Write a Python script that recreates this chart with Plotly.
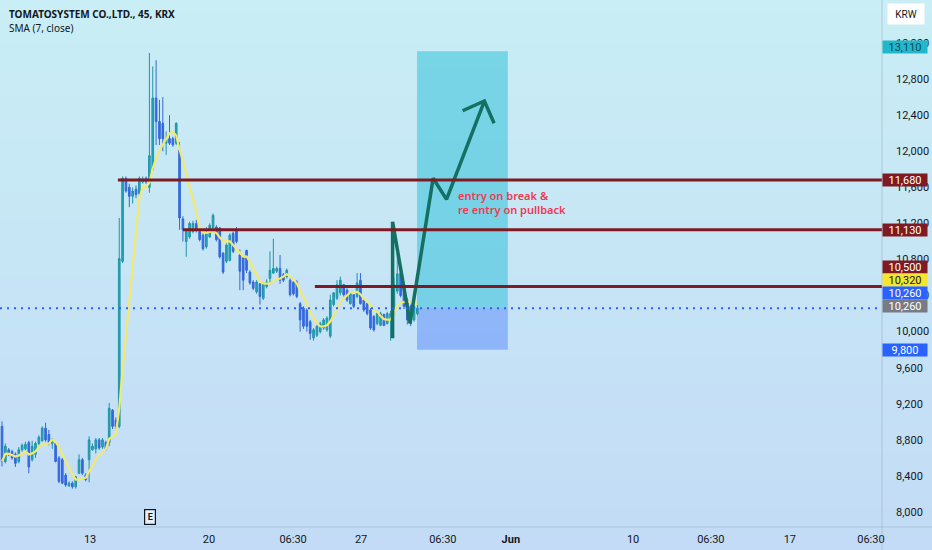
import pandas as pd
import plotly.graph_objects as go

# 45 min bars, bar index 0..124 (May 8 .. May 28)
opens = [8950, 8560, 8690, 8670, 8640, 8560, 8690, 8700, 8770, 8580,
         8640, 8760, 8790, 8930, 8860, 8760, 8760, 8600, 8580, 8410,
         8290, 8320, 8280, 8430, 8580, 8410, 8580, 8690, 8700, 8800,
         8720, 8770, 8770, 9130, 9020, 8950, 10780, 11700, 11600, 11500,
         11580, 11530, 11660, 11700, 11600, 11800, 12590, 12330, 12310, 12090,
         12140, 12140, 12090, 12010, 11250, 11000, 11050, 11110, 11200, 11110,
         11070, 10940, 11050, 11150, 11160, 11150, 10870, 10780, 10790, 11090,
         11130, 10850, 10830, 10900, 10660, 10550, 10440, 10530, 10370, 10500,
         10590, 10650, 10670, 10700, 10630, 10610, 10570, 10550, 10550, 10310,
         10260, 10240, 10110, 9930, 9960, 10000, 10040, 10020, 9950, 10300,
         10370, 10430, 10520, 10460, 10310, 10410, 10390, 10570, 10350, 10310,
         10240, 10170, 10090, 10070, 10190, 10090, 10130, 10200, 10450, 10650,
         10500, 10350, 10280, 10130, 10200]
highs = [9005, 8760, 8710, 8690, 8660, 8720, 8760, 8780, 8790, 8790,
         8780, 8850, 8950, 8990, 8910, 8820, 8770, 8620, 8600, 8430,
         8340, 8340, 8400, 8640, 8600, 8430, 8840, 8760, 8820, 8820,
         8820, 8790, 9210, 9140, 9050, 11260, 11720, 11720, 11640, 11600,
         11620, 11720, 11720, 11720, 13090, 12940, 13010, 12570, 12600, 12220,
         12400, 12160, 12320, 12100, 11280, 11130, 11220, 11230, 11240, 11130,
         11090, 11160, 11200, 11310, 11180, 11160, 10880, 10980, 11090, 11110,
         11160, 10910, 10840, 10910, 10680, 10570, 10570, 10540, 10550, 10580,
         10890, 11030, 10720, 10850, 10650, 10700, 10590, 10570, 10570, 10330,
         10280, 10260, 10130, 10040, 10070, 10110, 10150, 10170, 10410, 10440,
         10570, 10610, 10530, 10480, 10440, 10420, 10650, 10650, 10370, 10330,
         10260, 10180, 10220, 10220, 10200, 10220, 10230, 10600, 10980, 10700,
         10520, 10370, 10300, 10300, 10320]
lows = [8505, 8540, 8620, 8580, 8500, 8540, 8670, 8660, 8430, 8560,
        8600, 8740, 8780, 8780, 8740, 8700, 8550, 8320, 8310, 8280,
        8280, 8260, 8260, 8420, 8410, 8340, 8330, 8680, 8650, 8690,
        8700, 8680, 8730, 8920, 8920, 8930, 10760, 11540, 11380, 11420,
        11480, 11500, 11640, 11640, 11540, 11780, 12070, 12070, 12000, 11960,
        12070, 12050, 12070, 11130, 11000, 10830, 11030, 11090, 11100, 11000,
        10900, 10920, 11040, 11130, 11000, 10810, 10640, 10760, 10780, 10870,
        10980, 10460, 10460, 10650, 10520, 10460, 10420, 10300, 10350, 10480,
        10520, 10640, 10650, 10530, 10550, 10590, 10390, 10400, 10370, 10000,
        10030, 10000, 9910, 9900, 9940, 9980, 10020, 10000, 9930, 10280,
        10350, 10400, 10390, 10330, 10300, 10260, 10370, 10300, 10220, 10180,
        10020, 10000, 10070, 10060, 10060, 10080, 9900, 10180, 10420, 10380,
        10250, 10080, 10060, 10110, 10180]
closes = [8560, 8730, 8650, 8600, 8540, 8690, 8740, 8750, 8500, 8730,
          8760, 8830, 8930, 8800, 8770, 8800, 8560, 8340, 8320, 8300,
          8320, 8280, 8390, 8580, 8430, 8360, 8800, 8730, 8800, 8710,
          8800, 8700, 9150, 8950, 8950, 10810, 11700, 11560, 11500, 11560,
          11520, 11700, 11690, 11660, 11950, 12590, 12330, 12140, 12140, 12140,
          12090, 12070, 12310, 11260, 11130, 11110, 11200, 11200, 11130, 11020,
          10920, 11090, 11180, 11290, 11020, 10830, 10660, 10960, 11070, 10890,
          11000, 10670, 10570, 10680, 10540, 10480, 10550, 10390, 10530, 10550,
          10680, 10700, 10700, 10570, 10570, 10680, 10410, 10420, 10390, 10130,
          10060, 10060, 9980, 10020, 10060, 10090, 10130, 10150, 10350, 10430,
          10520, 10570, 10410, 10350, 10430, 10280, 10540, 10310, 10240, 10200,
          10040, 10020, 10200, 10200, 10070, 10200, 10200, 10520, 10640, 10400,
          10280, 10130, 10090, 10280, 10260]
bars = list(range(len(closes)))

# time axis labels (bar positions)
time_tick_pos = [26.3, 61.8, 86.9, 107.2, 131.6, 151.9, 188.4, 211.6, 235.2, 259.4]
time_tick_text = ["13", "20", "06:30", "27", "06:30", "<b>Jun</b>", "10", "06:30", "17", "06:30"]
price_ticks = list(range(8000, 13201, 400))

# drawings
levels = [11680, 11130, 10500]
level_start = [34.6, 54.0, 93.4]
last_price = 10260
entry_price = 10260
target_price = 13110
stop_price = 9800
zone_start, zone_end = 123.9, 151.0
path_x = [116.6, 116.6, 121.8, 128.7, 132.7, 144.0]
path_y = [9926, 11219, 10093, 11700, 11467, 12557]
head_x = [137.5, 144.0, 146.9]
head_y = [12449, 12557, 12310]

badges = [  # value, bg, text colour, shift px
    (13110, "#22b8cc", "#0b4a55", 4),
    (11680, "#801a22", "white", 0),
    (11130, "#801a22", "white", 0),
    (10500, "#801a22", "white", 20),
    (10320, "#f5e52e", "#131722", 23),
    (10260, "#2962ff", "white", 15),
    (10260, "#787b86", "white", 2),
    (9800, "#2962ff", "white", 0),
]

sma = pd.Series(closes).rolling(7, min_periods=1).mean()

fig = go.Figure()

fig.add_trace(go.Candlestick(
    x=bars, open=opens, high=highs, low=lows, close=closes,
    increasing=dict(line=dict(color="#2094a6", width=1), fillcolor="#21a9bb"),
    decreasing=dict(line=dict(color="#3568d6", width=1), fillcolor="#2f6af0"),
    whiskerwidth=0, showlegend=False, hoverinfo="skip"
))

fig.add_trace(go.Scatter(
    x=bars, y=sma, mode="lines",
    line=dict(color="#f2e96e", width=2.2), showlegend=False, hoverinfo="skip"
))

fig.add_trace(go.Scatter(
    x=path_x, y=path_y, mode="lines",
    line=dict(color="#137062", width=3.5), showlegend=False, hoverinfo="skip"
))
fig.add_trace(go.Scatter(
    x=head_x, y=head_y, mode="lines",
    line=dict(color="#137062", width=3.5), showlegend=False, hoverinfo="skip"
))

shapes = []
# background gradient
n = 40
top = (201, 238, 245)
bot = (195, 219, 246)
y_lo, y_hi = -23 / 527, 1.0
for k in range(n):
    t = (k + 0.5) / n
    c = tuple(round(top[j] + (bot[j] - top[j]) * t) for j in range(3))
    shapes.append(dict(type="rect", xref="paper", yref="paper",
                       x0=0, x1=932 / 882,
                       y1=y_hi - (y_hi - y_lo) * k / n,
                       y0=y_hi - (y_hi - y_lo) * (k + 1) / n - 0.002,
                       fillcolor="rgb(%d,%d,%d)" % c, line=dict(width=0), layer="below"))

# position tool zones
shapes.append(dict(type="rect", xref="x", yref="y", x0=zone_start, x1=zone_end,
                   y0=entry_price, y1=target_price,
                   fillcolor="rgba(38,190,215,0.5)", line=dict(width=0), layer="below"))
shapes.append(dict(type="rect", xref="x", yref="y", x0=zone_start, x1=zone_end,
                   y0=stop_price, y1=entry_price,
                   fillcolor="rgba(41,98,255,0.35)", line=dict(width=0), layer="below"))

for lv, st in zip(levels, level_start):
    shapes.append(dict(type="line", xref="x", yref="y", x0=st, x1=262.7, y0=lv, y1=lv,
                       line=dict(color="#7e1a22", width=3)))

shapes.append(dict(type="line", xref="paper", yref="y", x0=0, x1=1, y0=last_price, y1=last_price,
                   line=dict(color="#2962ff", width=2, dash="2px,5px")))

# pane separators
shapes.append(dict(type="line", xref="paper", yref="paper", x0=0, x1=932 / 882, y0=0, y1=0,
                   line=dict(color="rgba(150,170,190,0.5)", width=1)))
shapes.append(dict(type="line", xref="paper", yref="paper", x0=1, x1=1, y0=-23 / 527, y1=1,
                   line=dict(color="rgba(150,170,190,0.5)", width=1)))

annotations = [
    dict(text="<b>TOMATOSYSTEM CO.,LTD., 45, KRX</b>", xref="paper", yref="paper",
         x=7 / 882, y=1 - 14 / 527, xanchor="left", yanchor="middle", showarrow=False,
         font=dict(family="Noto Sans", size=10, color="#131722")),
    dict(text="SMA (7, close)", xref="paper", yref="paper",
         x=7 / 882, y=1 - 28 / 527, xanchor="left", yanchor="middle", showarrow=False,
         font=dict(family="Noto Sans", size=10, color="#131722")),
    dict(text="entry on break &<br>re entry on pullback", xref="x", yref="y",
         x=135.5, y=11432, xanchor="left", yanchor="middle", align="left", showarrow=False,
         font=dict(family="Noto Sans", size=11, color="#ee3a52", weight=600)),
    dict(text="KRW", xref="paper", yref="paper", x=906 / 882, y=1 - 14 / 527,
         xanchor="center", yanchor="middle", showarrow=False, bgcolor="white",
         width=34, height=18, font=dict(family="Roboto", size=10, color="#131722")),
    dict(text="<b>E</b>", xref="x", yref="paper", x=44.2, y=1 - 517 / 527,
         xanchor="center", yanchor="middle", showarrow=False,
         bgcolor="rgba(255,255,255,0.55)", bordercolor="#131722", borderwidth=1.2,
         borderpad=1, width=8, height=12,
         font=dict(family="Roboto", size=9, color="#131722")),
]
for val, bg, fc, sh in badges:
    annotations.append(dict(
        text="{:,}".format(val), xref="paper", yref="y", x=1, y=val, yshift=sh,
        xanchor="left", yanchor="middle", showarrow=False, bgcolor=bg,
        width=44, height=12, borderpad=0,
        font=dict(family="Roboto", size=11, color=fc)))

fig.update_layout(
    width=932, height=550,
    margin=dict(l=0, r=50, t=0, b=23, autoexpand=False),
    paper_bgcolor="rgb(198,230,246)",
    plot_bgcolor="rgba(0,0,0,0)",
    shapes=shapes, annotations=annotations,
    showlegend=False,
    xaxis=dict(range=[-0.6, 262.7], tickvals=time_tick_pos, ticktext=time_tick_text,
               showgrid=False, zeroline=False, showline=False, ticks="",
               rangeslider=dict(visible=False), ticklabelstandoff=4, automargin=False,
               tickfont=dict(family="Roboto", size=11, color="#131722")),
    yaxis=dict(range=[7834, 13677], side="right", tickvals=price_ticks,
               ticktext=["{:,}".format(v) for v in price_ticks],
               showgrid=False, zeroline=False, showline=False, ticks="",
               ticklabelstandoff=13, automargin=False,
               tickfont=dict(family="Roboto", size=11, color="#131722")),
)

# the page body has a default 8px margin; drop it so the figure fills the window
fig.write_html("out.html", config=dict(displayModeBar=False),
               post_script="document.body.style.margin='0';document.body.style.overflow='hidden';")
